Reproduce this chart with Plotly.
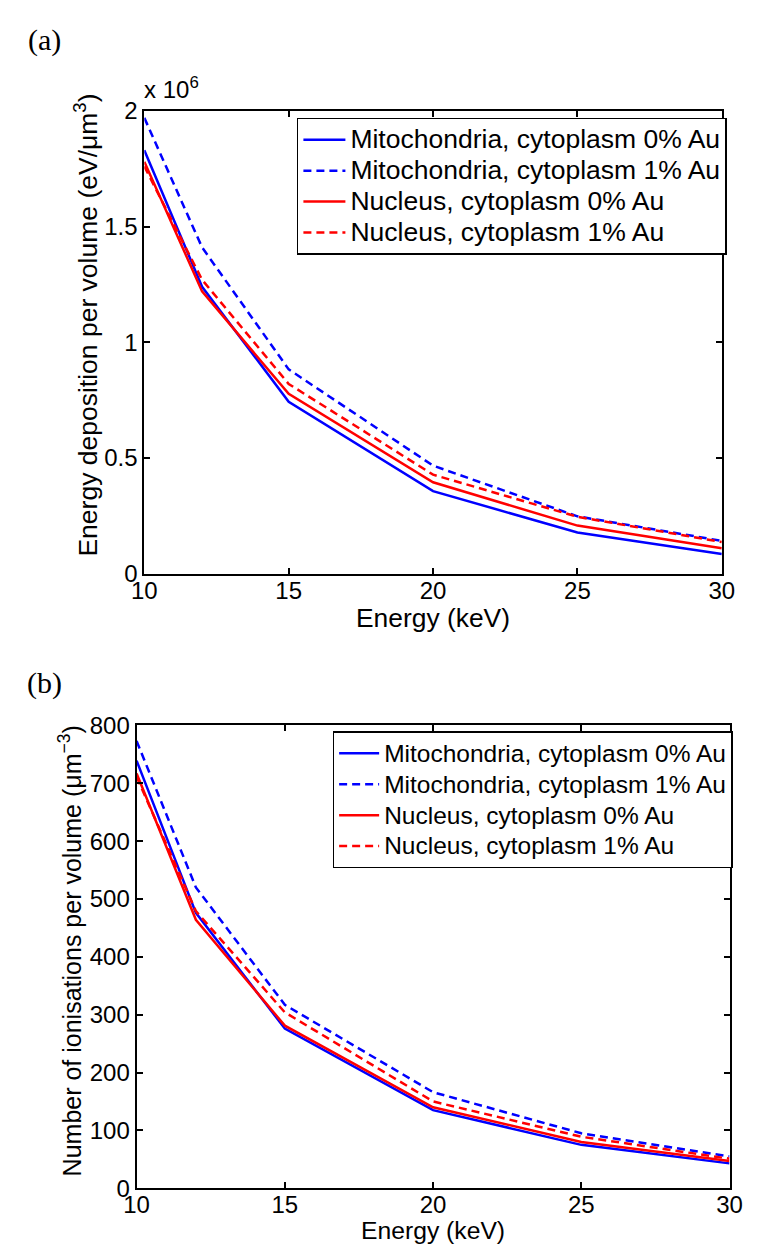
import plotly.graph_objects as go

W, H = 757, 1258

energy = [10, 12, 15, 20, 25, 30]

# Panel (a): energy deposition per volume (eV/um^3)
dep_mito_0 = [1.83e6, 1.24e6, 0.743e6, 0.357e6, 0.178e6, 0.085e6]
dep_mito_1 = [1.97e6, 1.41e6, 0.883e6, 0.467e6, 0.248e6, 0.142e6]
dep_nuc_0 = [1.78e6, 1.22e6, 0.777e6, 0.395e6, 0.208e6, 0.110e6]
dep_nuc_1 = [1.76e6, 1.27e6, 0.820e6, 0.428e6, 0.246e6, 0.137e6]

# Panel (b): number of ionisations per volume (um^-3)
ion_mito_0 = [739, 476, 276, 135, 75, 43]
ion_mito_1 = [773, 520, 317, 166, 95, 55]
ion_nuc_0 = [717, 464, 281, 140, 80, 47]
ion_nuc_1 = [711, 479, 304, 150, 89, 51]

names = ["Mitochondria, cytoplasm 0% Au", "Mitochondria, cytoplasm 1% Au",
         "Nucleus, cytoplasm 0% Au", "Nucleus, cytoplasm 1% Au"]
colors = ["#0000FF", "#0000FF", "#FF0000", "#FF0000"]
dashes = ["solid", "8px,5px", "solid", "8px,5px"]

dep_ticks = [0, 0.5e6, 1.0e6, 1.5e6, 2.0e6]
dep_ticktext = ["0", "0.5", "1", "1.5", "2"]
ion_ticks = [0, 100, 200, 300, 400, 500, 600, 700, 800]
x_ticks = [10, 15, 20, 25, 30]


def px(x):
    return x / W


def py(y):
    return 1 - y / H


FONT = "Liberation Sans, Arial, sans-serif"
SERIF = "Liberation Serif, DejaVu Serif, serif"

fig = go.Figure()

for series, nm, c, d in zip([dep_mito_0, dep_mito_1, dep_nuc_0, dep_nuc_1], names, colors, dashes):
    fig.add_trace(go.Scatter(x=energy, y=series, mode="lines",
                             name="<span style='font-size:26.5px'>%s</span>" % nm,
                             line=dict(color=c, width=2.5, dash=d),
                             xaxis="x", yaxis="y", legend="legend"))
for series, nm, c, d in zip([ion_mito_0, ion_mito_1, ion_nuc_0, ion_nuc_1], names, colors, dashes):
    fig.add_trace(go.Scatter(x=energy, y=series, mode="lines",
                             name="<span style='font-size:24.5px'>%s</span>" % nm,
                             line=dict(color=c, width=2.5, dash=d),
                             xaxis="x2", yaxis="y2", legend="legend2"))

axis_common = dict(showgrid=False, zeroline=False, showline=True, linecolor="black",
                   linewidth=2, mirror="ticks", ticks="inside", ticklen=6, tickwidth=1.5,
                   tickcolor="black", tickfont=dict(family=FONT, size=24, color="black"))

fig.update_layout(
    width=W, height=H,
    margin=dict(l=0, r=0, t=0, b=0),
    paper_bgcolor="white", plot_bgcolor="white",
    xaxis=dict(domain=[px(136), px(734)], anchor="y", range=[10, 30],
               tickvals=x_ticks, ticklabelstandoff=-6, **axis_common),
    yaxis=dict(domain=[py(572), py(99)], anchor="x", range=[0, 2.0e6],
               tickvals=dep_ticks, ticktext=dep_ticktext, **axis_common),
    xaxis2=dict(domain=[px(128), px(742)], anchor="y2", range=[10, 30],
                tickvals=x_ticks, ticklabelstandoff=-6, **axis_common),
    yaxis2=dict(domain=[py(1200), py(727)], anchor="x2", range=[0, 800],
                tickvals=ion_ticks, **axis_common),
    legend=dict(x=px(294), y=py(106), xanchor="left", yanchor="top",
                bgcolor="white", bordercolor="black", borderwidth=1.5,
                font=dict(family=FONT, size=21.5, color="black"),
                itemwidth=42, tracegroupgap=0),
    legend2=dict(x=px(331), y=py(733), xanchor="left", yanchor="top",
                 bgcolor="white", bordercolor="black", borderwidth=1.5,
                 font=dict(family=FONT, size=21.5, color="black"),
                 itemwidth=40, tracegroupgap=0),
    showlegend=True,
)

annotations = [
    dict(text="(a)", x=px(13), y=py(27), xanchor="left", yanchor="middle",
         font=dict(family=SERIF, size=30, color="black")),
    dict(text="(b)", x=px(12), y=py(684), xanchor="left", yanchor="middle",
         font=dict(family=SERIF, size=30, color="black")),
    dict(text="x 10<sup>6</sup>", x=px(134), y=py(93), xanchor="left", yanchor="bottom",
         font=dict(family=FONT, size=24, color="black")),
    dict(text="Energy (keV)", x=px(435), y=py(600), xanchor="center", yanchor="top",
         font=dict(family=FONT, size=26.4, color="black")),
    dict(text="Energy (keV)", x=px(435), y=py(1227), xanchor="center", yanchor="top",
         font=dict(family=FONT, size=24.7, color="black")),
    dict(text="Energy deposition per volume (eV/\u03bcm<sup>3</sup>)", x=px(76), y=py(318),
         xanchor="center", yanchor="middle", textangle=-90,
         font=dict(family=FONT, size=26.5, color="black")),
    dict(text="Number of ionisations per volume (\u03bcm<sup>\u22123</sup>)", x=px(60), y=py(957),
         xanchor="center", yanchor="middle", textangle=-90,
         font=dict(family=FONT, size=25, color="black")),
]
for a in annotations:
    a.update(xref="paper", yref="paper", showarrow=False)
fig.update_layout(annotations=annotations)

fig.write_html("out.html")
